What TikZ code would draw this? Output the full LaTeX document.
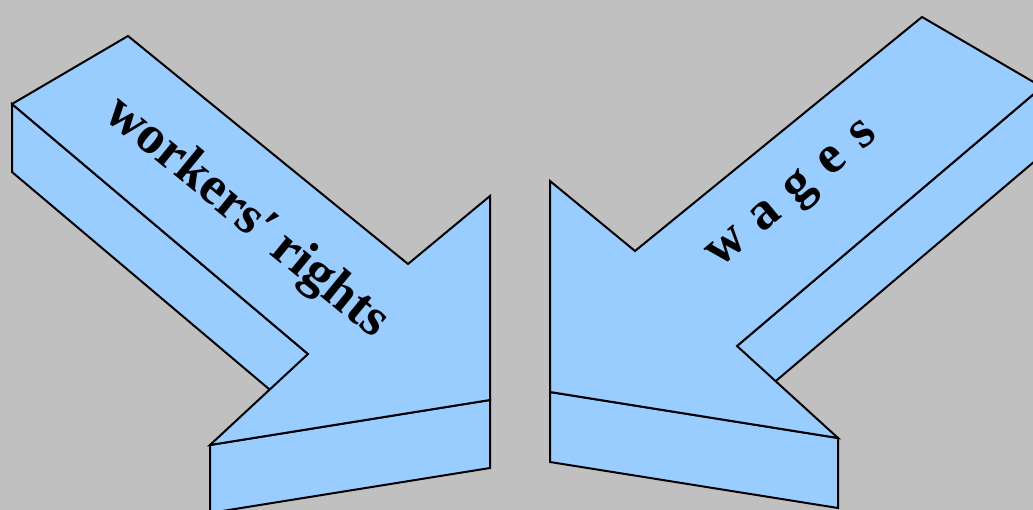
\documentclass[tikz,border=0pt]{standalone}
\usepackage{fontspec}
\setmainfont{Liberation Serif}
\definecolor{arrowblue}{RGB}{153,204,255}
\definecolor{bggray}{RGB}{192,192,192}
\begin{document}
\begin{tikzpicture}[x=1pt,y=-1pt,
  face/.style={fill=arrowblue,draw=black,line width=2pt,line join=miter},
  lbl/.style={font=\fontsize{54}{60}\selectfont\bfseries,inner sep=0pt}]
\useasboundingbox (0,0) rectangle (1033,510);
\fill[bggray] (0,0) rectangle (1033,510);
\clip (0,0) rectangle (1033,510);
% left arrow
\draw[face] (12,104) -- (308,354) -- (308,422) -- (12,172) -- cycle;
\draw[face] (210,445) -- (490,400) -- (490,468) -- (210,513) -- cycle;
\draw[face] (12,104) -- (128,36) -- (408,264) -- (490,196) -- (490,400) -- (210,445) -- (308,354) -- cycle;
% right arrow
\draw[face] (1042,87) -- (737,346) -- (737,414) -- (1042,155) -- cycle;
\draw[face] (550,392) -- (838,438) -- (838,508) -- (550,462) -- cycle;
\draw[face] (922,17) -- (1042,87) -- (737,346) -- (838,438) -- (550,392) -- (550,181) -- (635,251) -- cycle;
% labels
\node[lbl,rotate=-39.3] (rights) at (246,218) {workers′\hspace{11pt}rights};
\node[lbl,rotate=39.5] (wages) at (794,197) {w\hspace{17pt}a\hspace{17pt}g\hspace{17pt}e\hspace{17pt}s};
\end{tikzpicture}
\end{document}
